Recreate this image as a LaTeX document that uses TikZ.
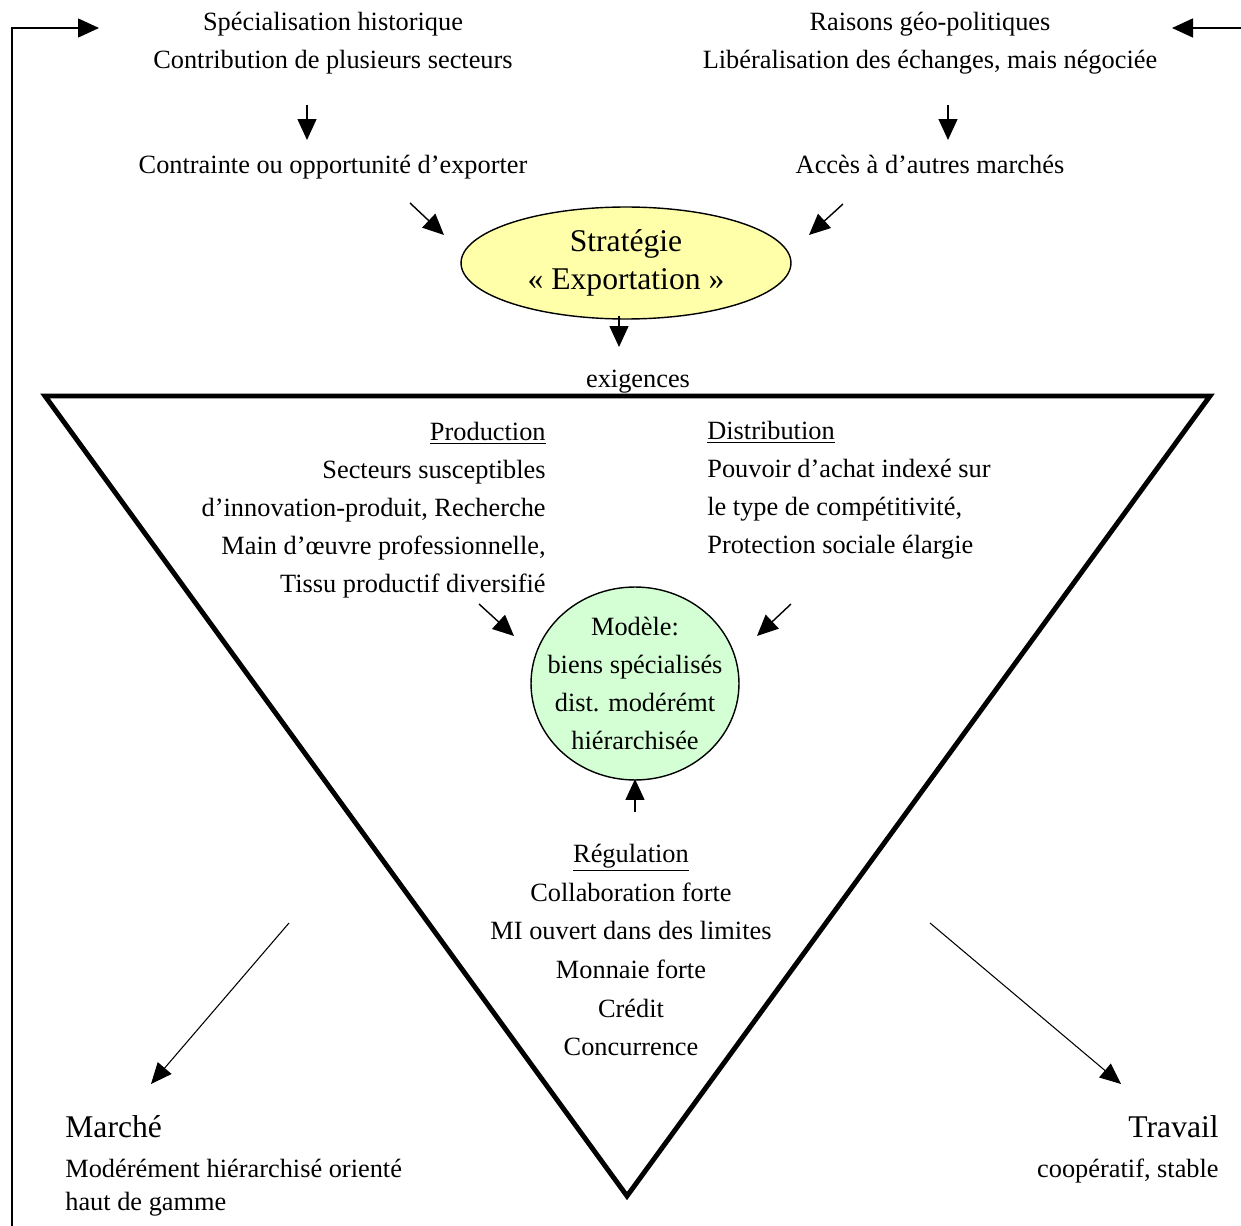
\documentclass[tikz,border=0pt]{standalone}
\usepackage{fontspec}
\setmainfont{Liberation Serif}
\usetikzlibrary{arrows.meta,shapes.geometric}

\begin{document}
\begin{tikzpicture}[x=0.02cm, y=-0.02cm,
  txt/.style={font=\fontsize{15}{21.6}\selectfont, align=center, inner sep=0pt},
  bigtxt/.style={font=\fontsize{18}{22}\selectfont, align=center, inner sep=0pt},
  arr/.style={-{Triangle[length=0.42cm,width=0.38cm]}, line width=0.8pt},
  thinarr/.style={-{Triangle[length=0.42cm,width=0.36cm]}, line width=0.6pt},
  strategie/.style={ellipse, draw, line width=0.8pt, fill=yellowfill,
    minimum width=6.6cm, minimum height=2.24cm, inner sep=0pt},
  modele/.style={ellipse, draw, line width=0.8pt, fill=greenfill,
    minimum width=4.16cm, minimum height=3.86cm, inner sep=0pt}]
  \definecolor{yellowfill}{RGB}{255,255,170}
  \definecolor{greenfill}{RGB}{212,255,212}
  \useasboundingbox (0,0) rectangle (1241,1226);

  % top: the two sources
  \node[txt] (specialisation) at (333,43)
    {Spécialisation historique\\Contribution de plusieurs secteurs};
  \node[txt] (raisons) at (930,43)
    {Raisons géo-politiques\\Libéralisation des échanges, mais négociée};
  \node[txt] (contrainte) at (333,167) {Contrainte ou opportunité d'exporter};
  \node[txt] (acces) at (930,164) {Accès à d'autres marchés};

  % strategy
  \node[strategie, bigtxt] (strat) at (626,263) {Stratégie\\« Exportation »};
  \node[txt] (exigences) at (638,382) {exigences};

  % the triangle
  \coordinate (triA) at (45,396);
  \coordinate (triB) at (1210,396);
  \coordinate (triC) at (627,1196);
  \draw[line width=2.8pt, line join=miter] (triA) -- (triB) -- (triC) -- cycle;

  \node[txt, align=right, anchor=east] (production) at (546,510)
    {\underline{Production}\\Secteurs susceptibles\\d'innovation-produit, Recherche\\Main d'œuvre professionnelle,\\Tissu productif diversifié};
  \node[txt, align=left, anchor=west] (distribution) at (707,490.5)
    {\underline{Distribution}\\Pouvoir d'achat indexé sur\\le type de compétitivité,\\Protection sociale élargie};
  \node[modele] (modele) at (635,683.5) {};
  \node[txt, font=\fontsize{15}{21.8}\selectfont] (modeletxt) at (modele.center)
    {Modèle:\\biens spécialisés\\dist. modérémt\\hiérarchisée};
  \node[txt, font=\fontsize{15}{22}\selectfont] (regulation) at (631,950)
    {\underline{Régulation}\\Collaboration forte\\MI ouvert dans des limites\\Monnaie forte\\Crédit\\Concurrence};

  % bottom corners
  \node[bigtxt, anchor=west] (marche) at (65,1127) {Marché};
  \node[txt, align=left, anchor=west, font=\fontsize{15}{18.7}\selectfont] (marchetxt) at (65,1187.5)
    {Modérément hiérarchisé orienté\\haut de gamme};
  \node[bigtxt, anchor=east] (travail) at (1219,1127) {Travail};
  \node[txt, anchor=east] (travailtxt) at (1219,1171) {coopératif, stable};

  % arrow ends
  \coordinate (s1) at (307,105);  \coordinate (e1) at (307,140);
  \coordinate (s2) at (948,105);  \coordinate (e2) at (948,140);
  \coordinate (s3) at (410,203);  \coordinate (e3) at (444,235);
  \coordinate (s4) at (843,204);  \coordinate (e4) at (809,235);
  \coordinate (s5) at (619,316);  \coordinate (e5) at (619,347);
  \coordinate (s6) at (479,604);  \coordinate (e6) at (514,636);
  \coordinate (s7) at (791,604);  \coordinate (e7) at (757,636);
  \coordinate (s8) at (635,812);  \coordinate (e8) at (635,779);
  \coordinate (s9) at (289,923);  \coordinate (e9) at (151,1084);
  \coordinate (s10) at (930,923); \coordinate (e10) at (1121,1084);

  \foreach \i in {1,...,8}
    \draw[arr] (s\i) -- (e\i);
  \draw[thinarr] (s9) -- (e9);
  \draw[thinarr] (s10) -- (e10);

  % feedback loop on the sides
  \coordinate (loopB) at (12,1226);
  \coordinate (loopT) at (12,28);
  \coordinate (loopL) at (99,28);
  \coordinate (loopR0) at (1241,28);
  \coordinate (loopR) at (1172,28);
  \draw[arr] (loopB) -- (loopT) -- (loopL);
  \draw[arr] (loopR0) -- (loopR);
\end{tikzpicture}
\end{document}
